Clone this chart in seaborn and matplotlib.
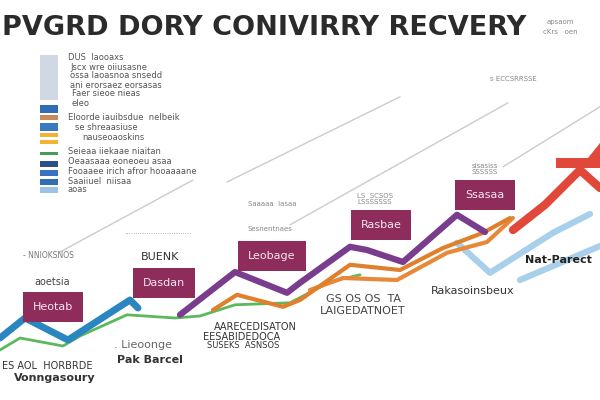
import matplotlib
matplotlib.use("Agg")
import matplotlib.pyplot as plt
from matplotlib.patches import Rectangle, Polygon
import seaborn as sns
import pandas as pd

sns.set_theme(style="white")
plt.rcParams['font.family'] = ['DejaVu Sans']

# --- data: month vs recovery index ---
blue_month = [0, 2.5, 6.8, 13.0, 13.8]
blue_index = [15.5, 20.5, 15.0, 25.0, 23.0]

green_month = [0, 2, 6.3, 8, 12.7, 17.5, 20, 23.5, 29, 33, 36]
green_index = [12.5, 15.5, 13.5, 16, 21.3, 20.5, 21, 23.8, 24.3, 29.5, 31.3]

purple_month = [18, 23.5, 28.7, 30, 35, 36.7, 40.3, 45.7, 48.5]
purple_index = [21.3, 32, 26.8, 29.3, 38.3, 37.5, 34.5, 46.3, 42]

orange_month = [21.3, 23.7, 28.3, 30, 35, 40, 44.3, 48.3, 51]
orange_index = [22.5, 26.3, 23.3, 25, 33.8, 32.5, 38, 41.8, 45.5]

orange2_month = [31, 34.3, 39.7, 44.7, 48.7, 51.3]
orange2_index = [27.5, 30.5, 30, 36.8, 39.5, 45.5]

red_month = [51.3, 54.5, 58, 60]
red_index = [42.5, 48.8, 57.5, 53]

lightblue_month = [45.7, 49, 55.3, 59]
lightblue_index = [39.3, 31.8, 41.8, 46.5]

lightblue2_month = [52, 60]
lightblue2_index = [30, 38.5]

# faint background trend lines (start, end)
trend_month = [[6, 19.3], [22.7, 40], [29, 50.8], [50.3, 60]]
trend_index = [[37, 55], [54.5, 75.8], [43.8, 74.3], [58.3, 73.3]]

box_labels = ["Heotab", "Dasdan", "Leobage", "Rasbae", "Ssasaa"]
box_month = [5.3, 16.4, 27.2, 38.1, 48.5]
box_index = [23.3, 29.3, 36, 43.8, 51.3]

title = "PVGRD DORY CONIVIRRY RECVERY"

legend_lines = ["DUS  Iaooaxs", "Jscx wre oiiusasne", "ossa laoasnoa snsedd",
                "ani erorsaez eorsasas", "Faer sieoe nieas", "eleo",
                "Eloorde iauibsdue  nelbeik", "se shreaasiuse", "nauseoaoskins",
                "Seieaa iiekaae niaitan", "Oeaasaaa eoneoeu asaa",
                "Fooaaee irich afror hooaaaane", "Saaiiuel  niisaa", "aoas"]
legend_y = [58, 67, 76, 85, 94, 103, 118, 127, 137, 152, 162, 172, 181, 190]
legend_x = [68, 70, 70, 70, 72, 72, 68, 75, 82, 68, 68, 68, 68, 68]
icon_colors = ["#cfd8e3", "#2f6db5", "#c98a5a", "#3b78c2", "#f2b233", "#f2b233",
               "#4a9d56", "#2a4f8c", "#3b6fc0", "#2f6db5", "#9cc3e6"]
icon_y = [55, 105, 115, 123, 133, 140, 152, 161, 170, 179, 187]
icon_h = [45, 8, 5, 8, 4, 4, 3, 6, 6, 6, 6]

fig = plt.figure(figsize=(6, 4), dpi=100)
ax = fig.add_axes([0, 0, 1, 1])
ax.set_xlim(0, 60)
ax.set_ylim(0, 100)
ax.axis('off')


def px(x, y):
    # pixel position -> data position (layout only)
    return x / 10.0, (400 - y) / 4.0


# background trend lines
for tm, ti in zip(trend_month, trend_index):
    sns.lineplot(x=tm, y=ti, ax=ax, color="#c9cccf", linewidth=1.0, sort=False, legend=False)

series = [
    (lightblue_month, lightblue_index, "#a9d0ea", 4.5),
    (lightblue2_month, lightblue2_index, "#a9d0ea", 4.5),
    (green_month, green_index, "#5cb85c", 2.0),
    (blue_month, blue_index, "#2a86c0", 5.0),
    (orange2_month, orange2_index, "#e8893a", 3.0),
    (orange_month, orange_index, "#e07f2c", 3.0),
    (purple_month, purple_index, "#7a3d8e", 4.5),
    (red_month, red_index, "#e2483a", 6.0),
]
for m, v, c, lw in series:
    df = pd.DataFrame({"month": m, "index": v})
    sns.lineplot(data=df, x="month", y="index", ax=ax, color=c, linewidth=lw,
                 sort=False, legend=False)

# red arrow head / bar at top right
ax.add_patch(Polygon([px(556, 158), px(588, 158), px(600, 143), px(600, 168), px(556, 168)],
                     closed=True, color="#e2483a", lw=0))

# maroon label boxes
for lab, m, v in zip(box_labels, box_month, box_index):
    ax.text(m, v, lab, color="#f6e6ee", fontsize=8, ha="center", va="center",
            bbox=dict(boxstyle="square,pad=0.9", fc="#8e2c5c", ec="none"))

# title
ax.text(*px(264, 28), title, fontsize=19.5, fontweight="bold", color="#2b2b2b",
        ha="center", va="center")
ax.text(*px(560, 22), "apsaom", fontsize=5, color="#888888", ha="center", va="center")
ax.text(*px(560, 32), "cKrs   oen", fontsize=5, color="#888888", ha="center", va="center")

# legend block
for txt, x, y in zip(legend_lines, legend_x, legend_y):
    ax.text(*px(x, y), txt, fontsize=6, color="#555555", ha="left", va="center")
for c, y, h in zip(icon_colors, icon_y, icon_h):
    x0, y0 = px(40, y + h)
    ax.add_patch(Rectangle((x0, y0), 1.8, h / 4.0, color=c, lw=0))

# scattered annotations
notes = [
    (23, 256, "- NNIOKSNOS", 5.5, "#777777", "normal", "left"),
    (52, 282, "aoetsia", 7, "#444444", "normal", "center"),
    (160, 257, "BUENK", 8, "#333333", "normal", "center"),
    (158, 232, "..............................", 5, "#999999", "normal", "center"),
    (272, 204, "Saaaaa  Iasaa", 5, "#888888", "normal", "center"),
    (270, 229, "Sesnentnaes", 5, "#888888", "normal", "center"),
    (375, 199, "LS  SCSOS\nLSSSSSSS", 5, "#888888", "normal", "center"),
    (485, 169, "sisasiss\nSSSSSS", 5, "#888888", "normal", "center"),
    (513, 79, "s ECCSRRSSE", 5, "#888888", "normal", "center"),
    (363, 299, "GS OS OS  TA", 8, "#444444", "normal", "center"),
    (363, 311, "LAIGEDATNOET", 8, "#444444", "normal", "center"),
    (473, 291, "Rakasoinsbeux", 8, "#333333", "normal", "center"),
    (558, 260, "Nat-Parect", 8, "#222222", "bold", "center"),
    (255, 327, "AARECEDISATON", 7, "#333333", "normal", "center"),
    (242, 337, "EESABIDEDOCA", 7, "#333333", "normal", "center"),
    (243, 346, "SUSEKS  ASNSOS", 6, "#333333", "normal", "center"),
    (143, 345, ". Lieoonge", 8, "#666666", "normal", "center"),
    (150, 360, "Pak Barcel", 8, "#333333", "bold", "center"),
    (2, 366, "ES AOL  HORBRDE", 7, "#333333", "normal", "left"),
    (55, 378, "Vonngasoury", 8, "#333333", "bold", "center"),
]
for x, y, txt, fs, c, fw, ha in notes:
    ax.text(*px(x, y), txt, fontsize=fs, color=c, fontweight=fw, ha=ha, va="center")

fig.savefig("out.png", dpi=100, facecolor="white")
